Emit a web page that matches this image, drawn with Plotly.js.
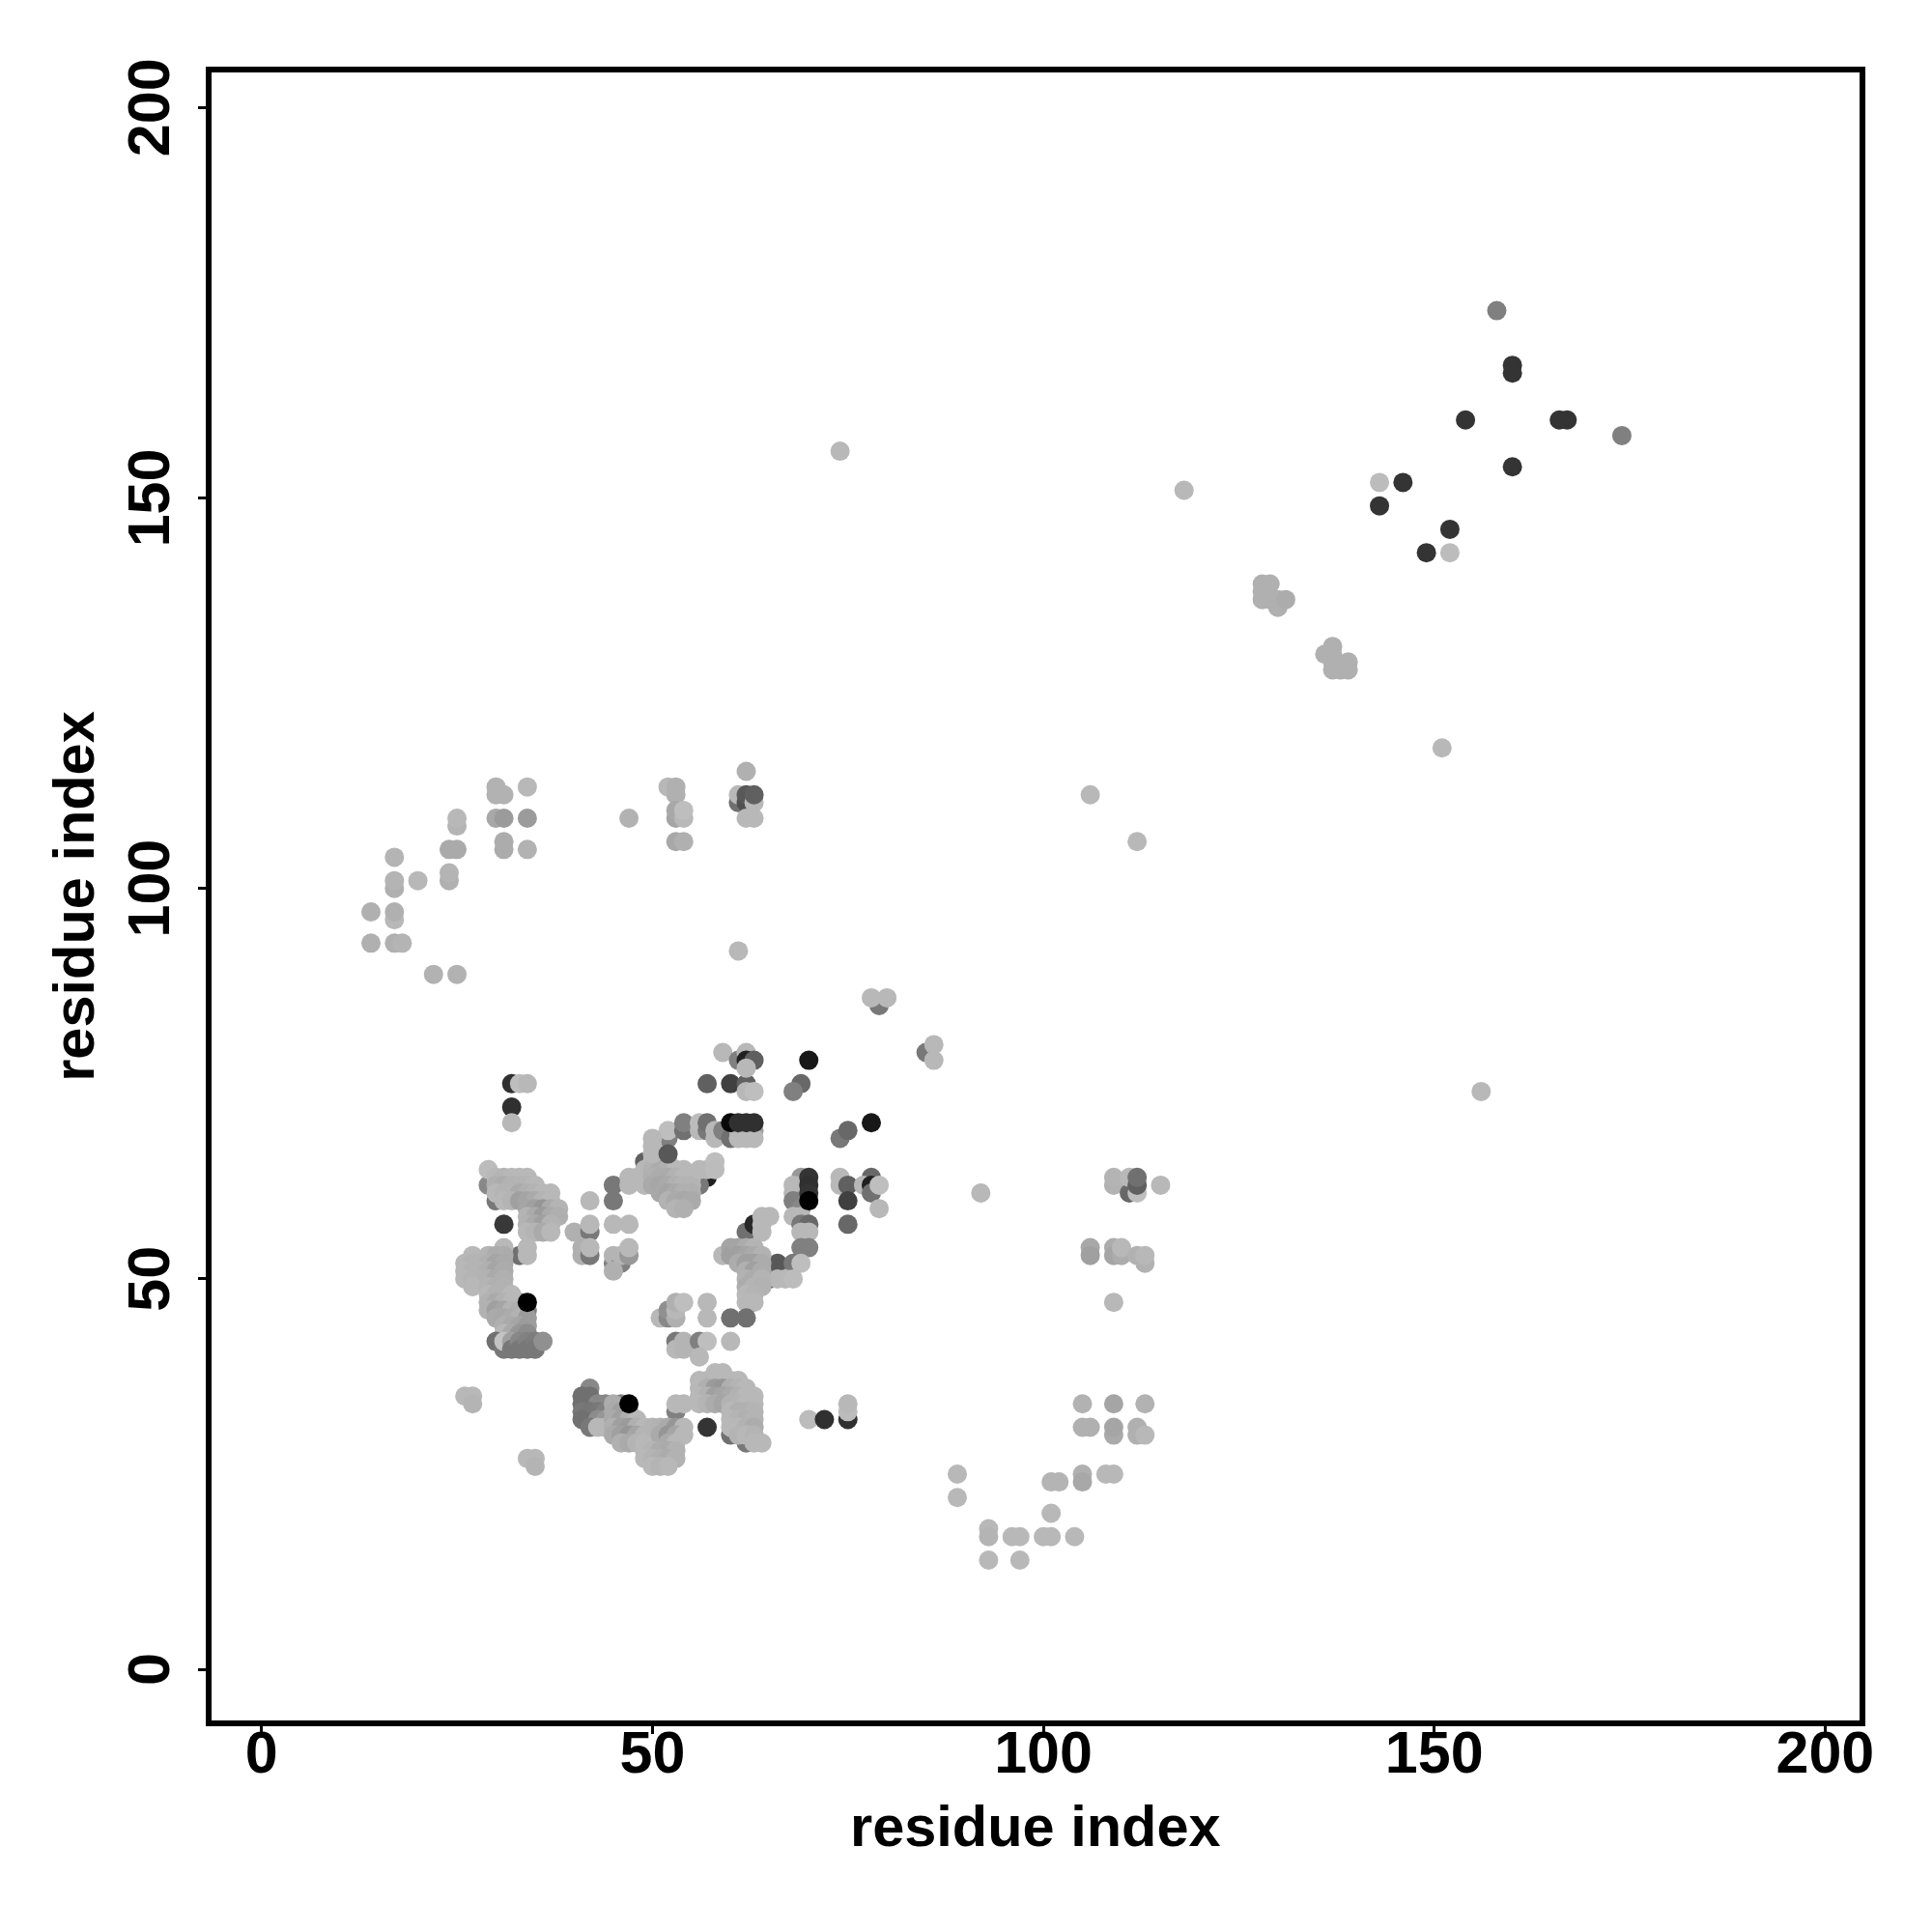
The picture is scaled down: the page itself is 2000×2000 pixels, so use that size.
<!DOCTYPE html>
<html><head><meta charset="utf-8">
<script src="https://cdn.plot.ly/plotly-3.0.1.min.js"></script>
<style>html,body{margin:0;padding:0;background:#fff}</style></head>
<body><div id="chart" style="width:2000px;height:2000px"></div>
<script>
const axisTicks=[0,50,100,150,200];
const axisTitle="residue index";

// each contact: [residue x, residue y, grey level 0-255], listed in drawing order
const isolated=[[74,156,184],[118,151,184],[151,118,184],[106,112,184],[112,106,184],[156,74,184],[61,92,184],[92,61,184],
[79,85,120],[78,86,184],[80,86,184],[85,79,120],[86,80,184],[86,78,184]];
const lowerArc=[[89,25,184],[89,22,184],[101,24,180],[102,24,180],[105,25,176],[105,24,168],[108,25,184],[109,25,184],[101,20,184],
[93,18,184],[93,17,180],[96,17,184],[97,17,184],[100,17,184],[101,17,184],[104,17,184],[93,14,184],[97,14,184]];
const upperArc=[[14,97,176],[14,93,176],[17,104,180],[17,100,176],[17,101,180],[20,101,184],[17,96,184],[17,97,176],[17,93,176],[18,93,180],
[22,89,178],[25,89,178],[24,101,176],[24,102,180],[24,105,170],[25,105,170],[25,108,180],[25,109,184],
[30,112,178],[30,113,178],[31,112,178],[30,109,168],[31,109,155],[34,113,184],[34,109,155],[31,105,172],[31,106,172],[34,105,178],[47,109,178]];
const upperMid=[[52,113,184],[53,113,176],[53,112,176],[53,109,165],[53,110,168],[54,109,184],[54,110,190],[53,106,168],[54,106,176],
[62,115,176],[61,111,112],[61,112,184],[62,111,80],[62,112,88],[63,111,184],[63,112,96],[62,109,184],[63,109,184]];
const topRight=[[158,174,128],[160,167,52],[160,166,52],[154,160,52],[166,160,52],[167,160,52],[174,158,128],[160,154,52],
[143,152,188],[146,152,52],[143,149,52],[152,146,52],[149,143,52],[152,143,188]];
const diagonal=[[128,139,176],[129,139,176],[128,138,176],[128,137,176],[129,137,176],[130,137,176],[130,136,176],[131,137,172],
[137,131,176],[136,130,176],[137,130,176],[137,129,176],[137,128,176],[138,128,176],[139,129,176],[139,128,176]];
const lowerRight=[[70,32,188],[72,32,48],[75,32,48],[75,33,188],[75,34,184],
[106,54,168],[106,53,160],[109,54,172],[109,53,165],[110,53,172],[110,54,184],[112,53,178],[113,52,178],[113,53,184],[109,47,184],
[105,34,178],[109,34,165],[113,34,178],[105,31,176],[106,31,176],[109,30,170],[109,31,165],[112,30,176],[112,31,176],[113,30,184]];
const farRight=[[109,62,178],[109,63,180],[111,61,104],[111,63,184],[112,61,190],[112,62,96],[112,63,112],[115,62,184]];

const upperLeft=[[29,62,136],[30,60,120],[31,57,56],[33,53,112],[29,64,188],
[30,63,184],[31,63,180],[32,63,184],[33,63,184],[34,63,184],
[30,62,176],[31,62,172],[32,62,178],[33,62,180],[34,62,180],[35,62,184],
[30,61,184],[31,61,180],[32,61,180],[33,61,170],[34,61,176],[35,61,180],[36,61,184],[37,61,184],
[31,60,184],[32,60,180],[33,60,160],[34,60,165],[35,60,170],[36,60,180],[37,60,184],
[34,59,165],[35,59,160],[36,59,150],[37,59,170],[38,59,180],
[34,58,180],[35,58,170],[36,58,155],[37,58,170],[38,58,175],
[34,57,178],[35,57,170],[36,57,160],[37,57,180],
[34,56,184],[35,56,180],[36,56,170],[37,56,184],
[34,54,184],[34,53,184]];
const lowerLeft=[[31,54,184],[27,53,184],[29,53,180],[30,53,172],[31,53,172],
[26,52,184],[27,52,180],[28,52,180],[29,52,176],[30,52,165],[31,52,170],
[26,51,184],[27,51,180],[28,51,180],[29,51,176],[30,51,165],[31,51,172],
[26,50,184],[27,50,180],[28,50,180],[29,50,178],[30,50,170],[31,50,176],
[27,49,184],[29,49,180],[30,49,176],[31,49,178],
[33,47,120],[34,46,128],
[29,48,184],[30,48,178],[31,48,178],[32,48,184],
[29,47,178],[30,47,170],[31,47,178],[32,47,184],
[29,46,178],[30,46,160],[31,46,165],[32,46,180],[33,46,175],
[30,45,170],[31,45,168],[32,45,172],[33,45,178],[34,45,156],
[31,44,176],[32,44,170],[33,44,165],[34,44,156],
[31,43,184],[32,43,170],[33,43,150],[34,43,140],
[30,42,112],[31,41,120],[31,42,195],[32,42,160],[32,41,120],[33,42,135],[33,41,120],[34,42,130],[34,41,120],[35,42,125],[35,41,120],[36,42,144],
[34,47,0]];
const middle=[[42,60,184],[45,62,120],[45,60,120],[40,56,176],[42,56,120],[42,57,184],[45,57,184],[47,57,184],
[41,54,176],[41,53,176],[42,53,120],[42,54,184],[45,52,128],[45,53,180],[46,52,128],[46,53,180],[45,51,176],[47,53,152],[47,54,184],
[26,35,184],[27,35,184],[27,34,180],[34,27,184],[35,27,184],[35,26,180]];

const lowerMid=[[42,32,190],[42,36,136],[41,35,112],[42,35,112],[41,34,112],[42,34,112],[43,34,136],[44,34,136],
[41,33,120],[42,33,118],[43,33,120],[44,33,128],[41,32,112],[43,32,140],[44,32,150],[42,31,120],[43,31,184],[44,31,184],
[46,34,128],[47,33,128],[45,34,172],[45,33,170],[46,33,160],[45,32,170],[46,32,160],[47,32,175],[48,32,184],
[45,31,176],[46,31,160],[47,31,155],[48,31,176],[49,31,184],
[45,30,170],[46,30,160],[47,30,150],[48,30,165],[49,30,180],[50,30,184],
[46,29,176],[47,29,170],[48,29,180],[49,29,184],[50,29,184],[51,29,184],
[53,33,128],[50,31,180],[51,31,178],[52,31,170],[53,31,150],[54,31,184],
[51,30,170],[52,30,150],[53,30,165],[54,30,184],
[52,29,170],[53,29,184],
[49,28,184],[50,28,180],[51,28,172],[52,28,170],[53,28,178],
[49,27,184],[50,27,180],[51,27,176],[52,27,172],[53,27,178],
[50,26,184],[51,26,180],[52,26,184],
[53,34,184],[54,34,184],[47,34,0]];
const lowerMidRight=[[57,31,52],[60,30,112],[62,29,120],
[56,37,184],[57,37,184],[58,37,178],[59,37,178],[60,37,184],[61,37,184],
[58,38,184],[59,38,184],
[56,36,184],[57,36,175],[58,36,155],[59,36,150],[60,36,175],[61,36,180],[62,36,184],
[56,35,184],[57,35,178],[58,35,160],[59,35,165],[60,35,170],[61,35,178],[62,35,184],[63,35,184],
[56,34,184],[57,34,180],[58,34,172],[59,34,165],[60,34,178],[61,34,180],[62,34,184],[63,34,184],
[60,33,184],[61,33,176],[62,33,176],[63,33,180],
[60,32,184],[61,32,180],[62,32,176],[63,32,180],
[60,31,184],[61,31,184],[62,31,178],[63,31,172],
[61,30,180],[62,30,184],[63,30,180],[63,29,184],[64,29,184]];
const steep=[[49,65,96],[57,63,32],[56,62,120],[47,63,184],[47,62,184],[48,63,184],[49,63,184],[49,62,184],
[49,64,184],[50,65,184],[51,65,184],[52,65,184],
[50,64,178],[51,64,172],[52,64,176],[53,64,184],[54,64,184],
[50,63,176],[51,63,172],[52,63,170],[53,63,178],[54,63,184],[55,63,184],
[50,62,170],[51,62,166],[52,62,170],[53,62,176],[54,62,180],[55,62,180],
[51,61,168],[52,61,165],[53,61,170],[54,61,176],[55,61,176],
[52,60,178],[53,60,170],[54,60,168],[55,60,170],
[53,59,180],[54,59,176],
[56,64,184],[57,64,184],[58,65,190],[58,64,188]];
const strands=[[52,68,128],[52,69,190],[50,68,184],[50,67,184],[50,66,184],[52,66,88],
[54,69,112],[54,70,128],[56,69,184],[56,70,188],[57,69,120],[57,70,112],[58,68,184],[58,69,184],[59,69,128],[60,68,112],
[61,68,184],[61,69,184],[62,68,184],[63,69,160],[63,68,184],[62,69,184],
[60,70,8],[61,70,48],[62,70,48],[63,70,48],
[32,75,48],[32,72,48],[32,70,184],[33,75,190],[34,75,184],
[57,75,96],[60,75,64],[62,75,96],[62,74,184],[63,74,190],[69,75,104],[68,74,128],
[59,79,184],[61,78,128],[62,79,184],[62,78,32],[63,78,96],[62,77,184],[70,78,24],
[74,68,120],[75,69,104],[78,70,24]];
const rightArm=[[69,63,152],[68,62,184],[69,62,184],[68,61,184],[69,61,184],[69,60,144],[68,60,128],[69,59,136],[68,58,184],[69,58,184],
[70,63,52],[70,62,48],[70,61,52],[70,60,0],
[69,57,120],[70,57,104],[69,56,184],[70,56,184],[69,54,128],[70,54,128],
[66,52,88],[68,52,120],[69,52,190],[65,50,80],[66,50,184],[67,50,184],[68,50,188],
[62,56,112],[63,57,40],[64,58,184],[65,58,184],[64,57,184],[64,56,184],
[59,53,184],[60,54,165],[60,53,160],[61,54,165],[62,54,172],[63,54,180],
[61,53,160],[62,53,165],[63,53,170],[64,53,178],
[61,52,172],[62,52,160],[63,52,160],[64,52,172],
[62,51,176],[63,51,160],[64,51,172],
[62,50,178],[63,50,172],[64,50,180],
[62,49,172],[63,49,180],[64,49,178],
[62,48,184],[63,48,180],[62,47,184],[63,47,184],[60,45,112],[62,45,112],
[74,63,184],[74,62,184],[75,62,96],[75,60,64],[75,57,104],[78,63,104],[77,62,184],[78,62,32],[78,61,112],[79,62,190],[79,59,184],
[51,45,184],[52,45,136],[52,46,144],[53,45,176],[53,46,184],[53,47,176],[54,47,190],[57,47,184],[57,45,184],
[53,42,120],[53,41,184],[54,41,180],[54,42,180],[56,42,128],[57,42,190],[56,40,184],[60,42,184]];

const allContacts=[].concat(isolated,lowerArc,upperArc,upperMid,topRight,diagonal,lowerRight,farRight,upperLeft,lowerLeft,middle,lowerMid,lowerMidRight,steep,strands,rightArm);
const contactX=allContacts.map(c=>c[0]);
const contactY=allContacts.map(c=>c[1]);
const contactG=allContacts.map(c=>c[2]);

const font={family:"Liberation Sans, Arial, sans-serif",size:61,color:"#000",weight:700};
const titleFont={family:font.family,size:59.5,color:"#000",weight:700};
const axisBase={
  tickmode:"array",tickvals:axisTicks,ticktext:axisTicks.map(String),
  ticks:"outside",ticklen:8,tickwidth:3,tickcolor:"#000",
  showline:true,linewidth:6,linecolor:"#000",mirror:true,
  showgrid:false,zeroline:false,tickfont:font,automargin:false
};
Plotly.newPlot("chart",[{
  type:"scatter",mode:"markers",x:contactX,y:contactY,
  marker:{size:20,line:{width:0},color:contactG,cmin:0,cmax:255,
    colorscale:[[0,"#000"],[1,"#fff"]],showscale:false},
  hoverinfo:"skip"
}],{
  width:2000,height:2000,paper_bgcolor:"#fff",plot_bgcolor:"#fff",showlegend:false,
  margin:{l:219,r:75,t:75,b:219,pad:0},
  xaxis:Object.assign({},axisBase,{range:[-6.39,204.4],ticklabelstandoff:-33}),
  yaxis:Object.assign({},axisBase,{range:[-6.54,204.5],tickangle:-90,ticklabelstandoff:6,ticklabelshift:9,
    title:{text:axisTitle,font:titleFont,standoff:5}}),
  annotations:[{text:axisTitle,font:titleFont,showarrow:false,xref:"paper",yref:"paper",
    x:0.5,y:0,xanchor:"center",yanchor:"middle",yshift:-109}]
},{displayModeBar:false,staticPlot:true});
</script></body></html>
